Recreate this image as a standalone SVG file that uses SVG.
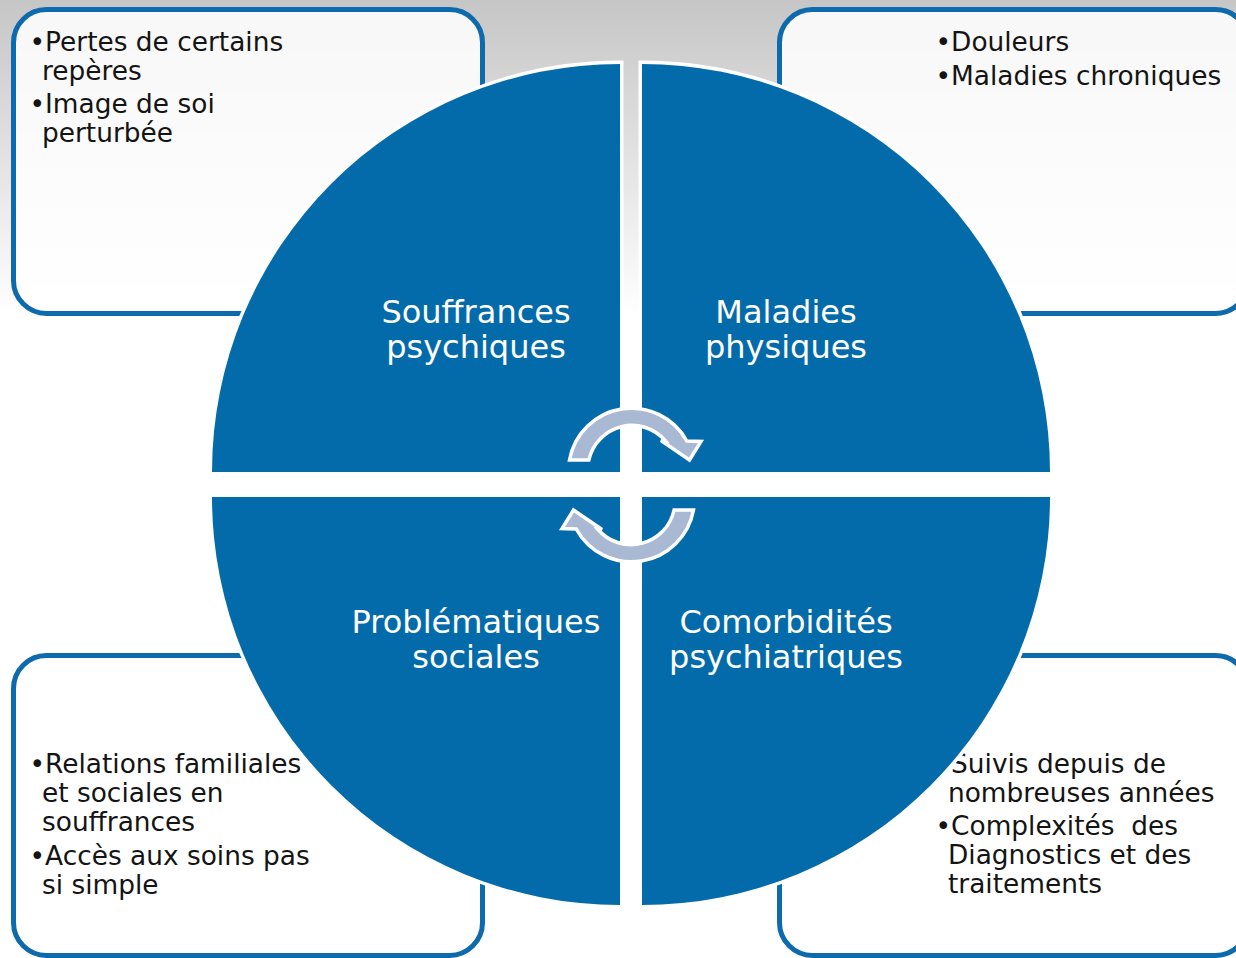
<svg xmlns="http://www.w3.org/2000/svg" width="1236" height="958" viewBox="0 0 1236 958">
  <defs>
    <linearGradient id="bg" x1="0" y1="0" x2="0" y2="958" gradientUnits="userSpaceOnUse">
      <stop offset="0" stop-color="#c6c6c6"/>
      <stop offset="0.33" stop-color="#ffffff"/>
      <stop offset="1" stop-color="#ffffff"/>
    </linearGradient>
    <style>
      .box { fill: #ffffff; fill-opacity: 0.86; stroke: #0d6aac; stroke-width: 5; }
      .txt { font-family: "DejaVu Sans", Verdana, sans-serif; font-size: 26.4px; fill: #141414; white-space: pre; }
      .quad { fill: #046bab; stroke: #ffffff; stroke-width: 7; paint-order: stroke; stroke-linejoin: miter; }
      .lbl { font-family: "DejaVu Sans", Verdana, sans-serif; font-size: 32px; fill: #ffffff; text-anchor: middle; }
      .arr { fill: #a9b8d3; stroke: #ffffff; stroke-width: 3.5; stroke-linejoin: miter; }
    </style>
  </defs>

  <rect x="0" y="0" width="1236" height="958" fill="url(#bg)"/>

  <g id="box-top-left">
    <rect class="box" x="13.5" y="9.5" width="469" height="304" rx="33" ry="33"/>
    <text class="txt" x="29.5" y="51">•Pertes de certains</text>
    <text class="txt" x="42" y="80">repères</text>
    <text class="txt" x="29.5" y="113">•Image de soi</text>
    <text class="txt" x="42" y="142">perturbée</text>
  </g>

  <g id="box-top-right">
    <rect class="box" x="779.5" y="9.5" width="469" height="304" rx="33" ry="33"/>
    <text class="txt" x="935.5" y="51">•Douleurs</text>
    <text class="txt" x="935.5" y="85">•Maladies chroniques</text>
  </g>

  <g id="box-bottom-left">
    <rect class="box" x="13.5" y="655.5" width="469" height="300" rx="33" ry="33"/>
    <text class="txt" x="29.5" y="773">•Relations familiales</text>
    <text class="txt" x="42" y="802">et sociales en</text>
    <text class="txt" x="42" y="831">souffrances</text>
    <text class="txt" x="29.5" y="865">•Accès aux soins pas</text>
    <text class="txt" x="42" y="894">si simple</text>
  </g>

  <g id="box-bottom-right">
    <rect class="box" x="779.5" y="655.5" width="469" height="300" rx="33" ry="33"/>
    <text class="txt" x="935.5" y="773">•Suivis depuis de</text>
    <text class="txt" x="948" y="802">nombreuses années</text>
    <text class="txt" x="935.5" y="835">•Complexités  des</text>
    <text class="txt" x="948" y="864">Diagnostics et des</text>
    <text class="txt" x="948" y="893">traitements</text>
  </g>

  <g id="quadrant-souffrances">
    <path class="quad" d="M620 472 L212 472 A408 408 0 0 1 620 64 Z"/>
    <text class="lbl" x="476" y="323">Souffrances</text>
    <text class="lbl" x="476" y="358">psychiques</text>
  </g>

  <g id="quadrant-maladies">
    <path class="quad" d="M642 472 L642 64 A408 408 0 0 1 1050 472 Z"/>
    <text class="lbl" x="786" y="323">Maladies</text>
    <text class="lbl" x="786" y="358">physiques</text>
  </g>

  <g id="quadrant-problematiques">
    <path class="quad" d="M620 497 L620 905 A408 408 0 0 1 212 497 Z"/>
    <text class="lbl" x="476" y="633">Problématiques</text>
    <text class="lbl" x="476" y="668">sociales</text>
  </g>

  <g id="quadrant-comorbidites">
    <path class="quad" d="M642 497 L1050 497 A408 408 0 0 1 642 905 Z"/>
    <text class="lbl" x="786" y="633">Comorbidités</text>
    <text class="lbl" x="786" y="668">psychiatriques</text>
  </g>

  <g id="connectors">
    <path id="arrow-top" class="arr" d="M569.5 460 A63 63 0 0 1 686.8 441 L701 441.5 L689.5 460 L661 440.5 L665.5 441 A44 44 0 0 0 588.9 460 Z"/>
    <path id="arrow-bottom" class="arr" transform="rotate(180 631.5 485)" d="M569.5 460 A63 63 0 0 1 686.8 441 L701 441.5 L689.5 460 L661 440.5 L665.5 441 A44 44 0 0 0 588.9 460 Z"/>
  </g>
</svg>
